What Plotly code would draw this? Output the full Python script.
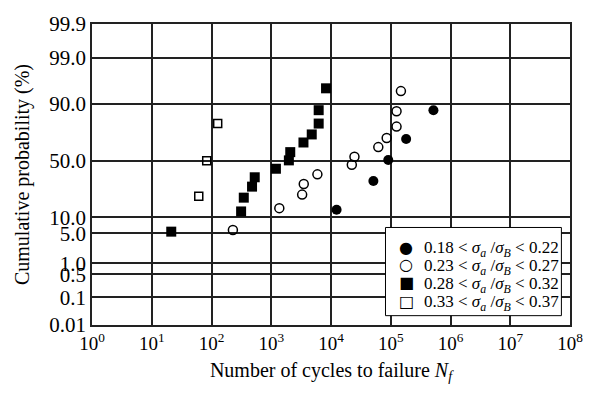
import plotly.graph_objects as go
from statistics import NormalDist

nd = NormalDist()

# Data (cycles to failure, cumulative probability %)
n_018 = [12400, 51200, 90800, 181000, 518000]
p_018 = [13.3, 32.2, 50.5, 68.8, 87.3]

n_023 = [228, 1364, 3290, 3500, 5920, 22300, 24700, 61900, 85500, 125000, 125000, 148000]
p_023 = [5.8, 14.1, 22.1, 29.8, 37.8, 46.3, 53.4, 62.0, 69.6, 77.9, 86.8, 94.2]

n_028 = [21.2, 313, 347, 477, 529, 1197, 1972, 2080, 3460, 4760, 6220, 6220, 8260]
p_028 = [5.4, 12.5, 20.1, 27.8, 35.3, 42.7, 50.2, 57.6, 65.9, 72.3, 79.9, 87.3, 94.9]

n_033 = [61.2, 83.2, 127]
p_033 = [21.0, 49.8, 79.9]

y_ticks_pct = [0.01, 0.1, 0.5, 1.0, 5.0, 10.0, 50.0, 90.0, 99.0, 99.9]
y_tick_text = ["0.01", "0.1", "0.5", "1.0", "5.0", "10.0", "50.0", "90.0", "99.0", "99.9"]
x_exps = list(range(0, 9))

legend_names = [
    "0.18 &lt; <i>σ</i><sub><i>a</i></sub> /<i>σ</i><sub><i>B</i></sub> &lt; 0.22",
    "0.23 &lt; <i>σ</i><sub><i>a</i></sub> /<i>σ</i><sub><i>B</i></sub> &lt; 0.27",
    "0.28 &lt; <i>σ</i><sub><i>a</i></sub> /<i>σ</i><sub><i>B</i></sub> &lt; 0.32",
    "0.33 &lt; <i>σ</i><sub><i>a</i></sub> /<i>σ</i><sub><i>B</i></sub> &lt; 0.37",
]
legend_glyphs = ["●", "○", "■", "□"]


def z(pcts):
    return [nd.inv_cdf(p / 100.0) for p in pcts]


FONT = "Liberation Serif, Times New Roman, serif"

fig = go.Figure()
series = [
    (n_018, p_018, "circle", "black", 10, 0),
    (n_023, p_023, "circle-open", "black", 9, 1.5),
    (n_028, p_028, "square", "black", 10, 0),
    (n_033, p_033, "square-open", "black", 8, 1.5),
]
for (xs, ps, sym, col, sz, lw), name in zip(series, legend_names):
    fig.add_trace(go.Scatter(
        x=xs, y=z(ps), mode="markers", name=name, showlegend=False,
        marker=dict(symbol=sym, color=col, size=sz,
                    line=dict(color="black", width=lw)),
    ))

# legend box drawn as a shape with text annotations
fig.add_shape(type="rect", xref="paper", yref="paper",
              x0=0.614, x1=0.982, y0=0.031, y1=0.324,
              fillcolor="white", line=dict(color="black", width=1), layer="above")
row_y = [0.258, 0.200, 0.140, 0.079]
for ry, glyph, name in zip(row_y, legend_glyphs, legend_names):
    fig.add_annotation(xref="paper", yref="paper", x=0.657, y=ry,
                       text=glyph, showarrow=False, xanchor="center", yanchor="middle",
                       font=dict(family="DejaVu Sans", size=16, color="black"))
    fig.add_annotation(xref="paper", yref="paper", x=0.690, y=ry - 0.006,
                       text=name, showarrow=False, xanchor="left", yanchor="middle",
                       font=dict(family=FONT, size=17, color="black"))

fig.update_layout(
    width=595, height=394,
    margin=dict(l=92, r=22, t=22, b=69),
    paper_bgcolor="white", plot_bgcolor="white",
    font=dict(family=FONT, color="black", size=20),
    showlegend=False,
)

fig.update_xaxes(
    type="log", range=[0, 8],
    tickvals=[10 ** k for k in x_exps],
    ticktext=[f"10<sup>{k}</sup>" for k in x_exps],
    showgrid=True, gridcolor="#222", gridwidth=1.5,
    showline=True, linecolor="#222", linewidth=1.5, mirror=True,
    ticks="", zeroline=False,
    tickfont=dict(family=FONT, size=19, color="black"),
    title=dict(text="Number of cycles to failure <i>N</i><sub><i>f</i></sub>",
               font=dict(family=FONT, size=20, color="black"), standoff=10),
)

fig.update_yaxes(
    range=[nd.inv_cdf(0.0001), nd.inv_cdf(0.999)],
    tickvals=z(y_ticks_pct), ticktext=y_tick_text,
    showgrid=True, gridcolor="#222", gridwidth=1.5,
    showline=True, linecolor="#222", linewidth=1.5, mirror=True,
    ticks="", zeroline=False,
    tickfont=dict(family=FONT, size=21, color="black"),
    title=dict(text="Cumulative probability (%)",
               font=dict(family=FONT, size=20, color="black"), standoff=14),
)

fig.write_html("out.html")
